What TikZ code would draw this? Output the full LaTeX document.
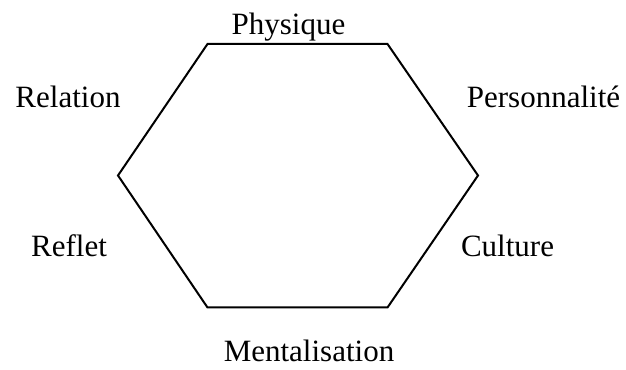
\documentclass[tikz,border=0pt]{standalone}
\usepackage{fontspec}
\setmainfont{Liberation Serif}
\usepackage{tikz}

\tikzset{
  facet/.style={anchor=base, inner sep=0pt, font=\fontsize{12.4}{15}\selectfont},
}

\begin{document}
\begin{tikzpicture}[x=0.4pt, y=-0.4pt, line width=0.8pt]
        \useasboundingbox (0,0) rectangle (626,370);

        % Corners of the prism
        \coordinate (top_left) at (207.5, 44);
        \coordinate (top_right) at (387.5, 44);
        \coordinate (right) at (478, 175.5);
        \coordinate (bottom_right) at (387.5, 307.5);
        \coordinate (bottom_left) at (207.5, 307.5);
        \coordinate (left) at (118, 175.5);

        % Hexagon
        \draw[line join=miter] (top_left) -- (top_right) -- (right) -- (bottom_right)
              -- (bottom_left) -- (left) -- cycle;

        % Facets
        \node[facet] (physique) at (288.5, 35) {Physique};
        \node[facet] (relation) at (68, 108) {Relation};
        \node[facet] (personnalite) at (543.5, 108) {Personnalité};
        \node[facet] (reflet) at (69, 257) {Reflet};
        \node[facet] (culture) at (507.5, 257) {Culture};
        \node[facet] (mentalisation) at (309, 362) {Mentalisation};
      \end{tikzpicture}
\end{document}
